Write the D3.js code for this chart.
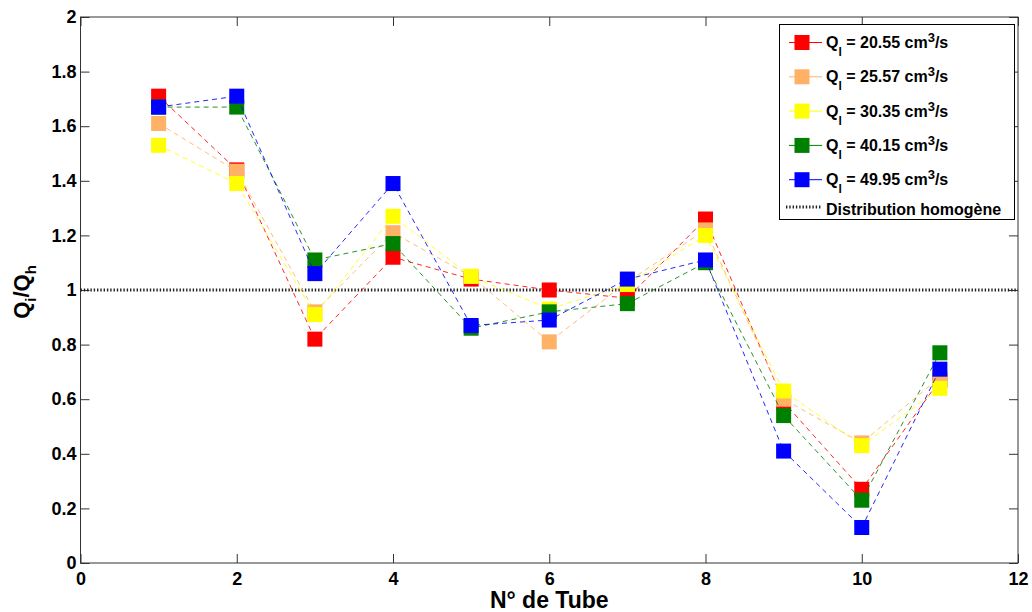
<!DOCTYPE html>
<html>
<head>
<meta charset="utf-8">
<script src="https://cdn.jsdelivr.net/npm/d3@7"></script>
<style>
  html, body { margin: 0; padding: 0; background: #fff; }
  svg { display: block; font-family: Arial, "Liberation Sans", sans-serif; }
</style>
</head>
<body>
<svg id="chart" width="1032" height="612"></svg>
<script>
// ---- data ----
const tubes = [1, 2, 3, 4, 5, 6, 7, 8, 9, 10, 11];
const q2055 = [1.71, 1.44, 0.82, 1.12, 1.04, 1.00, 0.97, 1.26, 0.59, 0.27, 0.67];
const q2557 = [1.61, 1.435, 0.92, 1.21, 1.05, 0.81, 1.03, 1.22, 0.60, 0.44, 0.68];
const q3035 = [1.53, 1.39, 0.91, 1.27, 1.05, 0.93, 1.02, 1.20, 0.63, 0.43, 0.64];
const q4015 = [1.67, 1.67, 1.11, 1.17, 0.86, 0.92, 0.95, 1.10, 0.54, 0.23, 0.77];
const q4995 = [1.67, 1.71, 1.06, 1.39, 0.87, 0.89, 1.04, 1.11, 0.41, 0.13, 0.71];
const seriesRates = ["20.55", "25.57", "30.35", "40.15", "49.95"];
const seriesColors = ["#ff0000", "#ffb266", "#ffff00", "#008000", "#0000ff"];
const homX = [0, 12];
const homY = [1, 1];
const homLabel = "Distribution homogène";
const xTicks = [0, 2, 4, 6, 8, 10, 12];
const xTickLabels = ["0", "2", "4", "6", "8", "10", "12"];
const yTicks = [0, 0.2, 0.4, 0.6, 0.8, 1, 1.2, 1.4, 1.6, 1.8, 2];
const yTickLabels = ["0", "0.2", "0.4", "0.6", "0.8", "1", "1.2", "1.4", "1.6", "1.8", "2"];
const xTitle = "N° de Tube";

const seriesValues = [q2055, q2557, q3035, q4015, q4995];

// ---- layout ----
const svg = d3.select("#chart");
const L = 80.5, R = 1018, T = 17, B = 563;
const x = d3.scaleLinear().domain([0, 12]).range([L, R]);
const y = d3.scaleLinear().domain([0, 2]).range([B, T]);
const axisColor = "#333";
const tickLen = 9;

svg.append("rect").attr("x", 0).attr("y", 0).attr("width", 1032).attr("height", 612).attr("fill", "#fff");

// axes
const gx = svg.append("g").attr("transform", `translate(0,${B})`)
  .call(d3.axisBottom(x).tickValues(xTicks).tickFormat((d, i) => xTickLabels[i]).tickSizeInner(-tickLen).tickSizeOuter(0).tickPadding(9));
const gxt = svg.append("g").attr("transform", `translate(0,${T})`)
  .call(d3.axisTop(x).tickValues(xTicks).tickFormat("").tickSizeInner(-tickLen).tickSizeOuter(0));
const gy = svg.append("g").attr("transform", `translate(${L},0)`)
  .call(d3.axisLeft(y).tickValues(yTicks).tickFormat((d, i) => yTickLabels[i]).tickSizeInner(-tickLen).tickSizeOuter(0).tickPadding(4));
const gyr = svg.append("g").attr("transform", `translate(${R},0)`)
  .call(d3.axisRight(y).tickValues(yTicks).tickFormat("").tickSizeInner(-tickLen).tickSizeOuter(0));

[gx, gxt, gy, gyr].forEach(g => {
  g.select(".domain").remove();
  g.selectAll(".tick line").attr("stroke", axisColor);
  g.selectAll(".tick text").attr("fill", "#000").attr("font-size", 18).attr("font-weight", "bold")
    .attr("font-family", 'Arial, "Liberation Sans", sans-serif');
});

// frame
svg.append("rect").attr("x", L).attr("y", T).attr("width", R - L).attr("height", B - T)
  .attr("fill", "none").attr("stroke", axisColor).attr("stroke-width", 1);

// homogeneous distribution line
const hom = homX.map((v, i) => [v, homY[i]]);
svg.append("path")
  .attr("d", d3.line().x(d => x(d[0])).y(d => y(d[1]))(hom))
  .attr("stroke", "#222").attr("stroke-width", 3).attr("stroke-dasharray", "1.4 1.9").attr("fill", "none");

// series
const ms = 15;
seriesValues.forEach((vals, si) => {
  const pts = tubes.map((t, i) => [t, vals[i]]);
  const g = svg.append("g");
  g.append("path")
    .attr("d", d3.line().x(d => x(d[0])).y(d => y(d[1]))(pts))
    .attr("fill", "none").attr("stroke", seriesColors[si]).attr("stroke-width", 1)
    .attr("stroke-dasharray", "5 4").attr("stroke-opacity", 0.85);
  g.selectAll("rect").data(pts).enter().append("rect")
    .attr("x", d => x(d[0]) - ms / 2).attr("y", d => y(d[1]) - ms / 2)
    .attr("width", ms).attr("height", ms).attr("fill", seriesColors[si]);
});

// axis titles
svg.append("text").attr("x", (L + R) / 2).attr("y", 608).attr("text-anchor", "middle")
  .attr("font-size", 23).attr("font-weight", "bold").text(xTitle);

const yl = svg.append("text").attr("transform", "translate(29,292) rotate(-90)").attr("text-anchor", "middle")
  .attr("font-size", 22).attr("font-weight", "bold");
yl.append("tspan").text("Q");
yl.append("tspan").attr("font-size", 15).attr("dy", 7).text("i");
yl.append("tspan").attr("dy", -7).text("/Q");
yl.append("tspan").attr("font-size", 15).attr("dy", 7).text("h");

// legend
const lg = svg.append("g");
lg.append("rect").attr("x", 779.5).attr("y", 24.5).attr("width", 235).attr("height", 195)
  .attr("fill", "#fff").attr("stroke", "#000").attr("stroke-width", 1);
const entryY0 = 42.5, entryStep = 34.3;
seriesRates.forEach((rate, i) => {
  const cy = entryY0 + i * entryStep;
  lg.append("line").attr("x1", 789).attr("x2", 822).attr("y1", cy).attr("y2", cy)
    .attr("stroke", seriesColors[i]).attr("stroke-width", 1);
  lg.append("rect").attr("x", 802 - ms / 2).attr("y", cy - ms / 2).attr("width", ms).attr("height", ms)
    .attr("fill", seriesColors[i]);
  const t = lg.append("text").attr("x", 826).attr("y", cy + 5.5).attr("font-size", 16).attr("font-weight", "bold");
  t.append("tspan").text("Q");
  t.append("tspan").attr("font-size", 12).attr("dy", 8).text("l");
  t.append("tspan").attr("dy", -8).text(" = " + rate + " cm");
  t.append("tspan").attr("font-size", 13).attr("dy", -6).text("3");
  t.append("tspan").attr("dy", 6).text("/s");
});
const hy = 207;
lg.append("line").attr("x1", 786).attr("x2", 822).attr("y1", hy).attr("y2", hy)
  .attr("stroke", "#222").attr("stroke-width", 3).attr("stroke-dasharray", "1.4 1.9");
lg.append("text").attr("x", 826).attr("y", 214.5).attr("font-size", 16).attr("font-weight", "bold").text(homLabel);
</script>
</body>
</html>
